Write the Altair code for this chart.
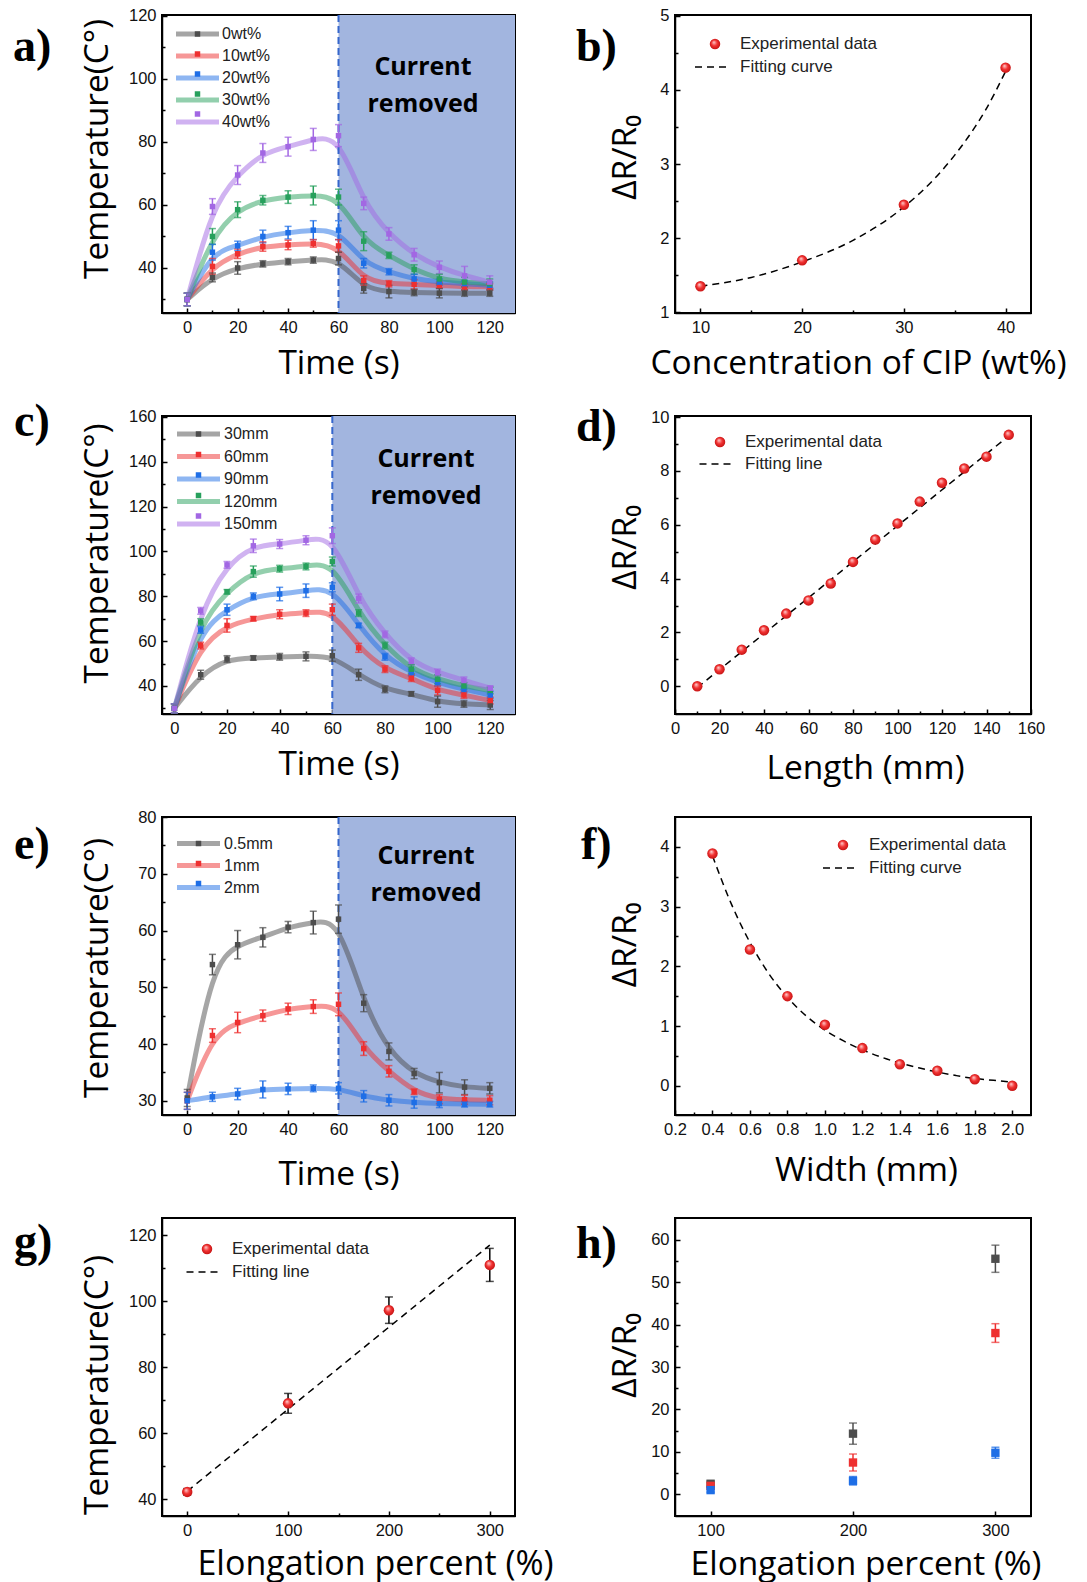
import altair as alt
import pandas as pd

NUM_FONT = "Liberation Sans"
TITLE_FONT = "Open Sans"
LETTER_FONT = "Liberation Serif"

# ------------------------------------------------------------------ data
time_s = [0, 10, 20, 30, 40, 50, 60, 70, 80, 90, 100, 110, 120]
time_ticks = [0, 20, 40, 60, 80, 100, 120]
time_minor = [10, 30, 50, 70, 90, 110]

# a) CIP concentration
a_names = ["0wt%", "10wt%", "20wt%", "30wt%", "40wt%"]
a_0 = [30, 37, 40, 41.3, 42, 42.5, 43, 33.5, 32.5, 32.2, 32, 32, 32]
a_10 = [30, 40.5, 44.5, 46.8, 47.3, 47.8, 47, 36, 35, 34.8, 34.5, 34, 34]
a_20 = [30, 45, 47, 50, 51.2, 52, 52, 41.5, 38.8, 36.5, 35.5, 35, 34.5]
a_30 = [30, 50, 58.5, 61.5, 62.5, 63, 62.5, 48.5, 44, 39.5, 36.5, 35.5, 35]
a_40 = [30, 59.5, 69.5, 76.5, 78.5, 80.8, 82, 60.5, 50.8, 44.2, 40.2, 37.5, 35.5]
a_0e = [2, 1.4, 2, 1, 1, 1, 2, 1.5, 2, 1, 1.5, 1, 1]
a_10e = [2, 2.5, 1.5, 1.5, 1.5, 1.2, 2, 1.5, 1, 1.5, 1, 1, 1]
a_20e = [2, 2.5, 1.5, 2, 2, 3, 3, 1.5, 1, 1.5, 1, 1, 1]
a_30e = [2, 2.5, 2.5, 1.5, 2, 3, 2.5, 3, 1, 1.5, 1.5, 1.5, 1.5]
a_40e = [2, 2.5, 3, 3, 3, 3.5, 3.5, 2, 2, 2, 2, 3, 2]

# c) length
c_names = ["30mm", "60mm", "90mm", "120mm", "150mm"]
c_30 = [30, 45, 52, 52.5, 53, 53.2, 53.5, 45, 38.5, 36.5, 33, 32, 31.5]
c_60 = [30, 58, 67, 70, 72, 72.5, 74, 57, 47.5, 43.5, 38, 36, 33.5]
c_90 = [30, 65, 74, 80, 81, 82.5, 84, 67, 53, 46, 41.5, 38.5, 36]
c_120 = [30, 68.5, 82, 91, 92.3, 93.3, 95.5, 72.5, 58, 47.5, 43, 40, 38]
c_150 = [30, 73.5, 94, 102.5, 103.3, 105, 107, 79, 63, 51, 46, 42.5, 39]
c_30e = [2, 2, 1.5, 1, 1.5, 2, 2.5, 2.5, 1.5, 1, 2.5, 1.5, 2]
c_60e = [2, 1.5, 3, 1, 2, 1.5, 2.5, 2, 1.5, 1.5, 2, 1.5, 1.5]
c_90e = [2, 1.5, 2.5, 1.5, 3, 3, 2, 1, 1.5, 1.5, 1.5, 1.5, 1.5]
c_120e = [2, 1.5, 1, 2.5, 1.5, 1.5, 2, 1.5, 1.5, 2, 2, 1.5, 1.5]
c_150e = [2, 1.5, 1.5, 3, 2, 2, 3.5, 2, 1.5, 1.5, 1.5, 1.5, 1]

# e) width
e_names = ["0.5mm", "1mm", "2mm"]
e_05 = [30.5, 54, 57.5, 58.8, 60.6, 61.4, 62, 47.2, 38.7, 34.8, 33.2, 32.4, 32.2]
e_1 = [30, 41.5, 43.8, 45, 46.2, 46.6, 47, 39.2, 35.2, 31.6, 30.3, 30.2, 30.1]
e_2 = [30, 30.7, 31.2, 32, 32.1, 32.2, 32.2, 30.8, 30.1, 29.7, 29.5, 29.4, 29.4]
e_05e = [1.5, 1.8, 2.5, 1.7, 1, 2, 2.5, 1.5, 1.5, 0.9, 1.8, 1.3, 1]
e_1e = [1.5, 1.2, 1.8, 1, 1, 1.2, 2, 1.2, 1, 0.5, 0.8, 0.8, 0.8]
e_2e = [1.5, 0.8, 1, 1.5, 1, 0.6, 1, 1, 1, 1, 0.7, 0.5, 0.5]

# b) resistance vs CIP concentration
b_x = [10, 20, 30, 40]
b_y = [1.35, 1.7, 2.45, 4.3]
b_fit_x = [10, 15, 20, 25, 30, 33, 35, 37, 38, 40]
b_fit_y = [1.35, 1.47, 1.68, 1.97, 2.42, 2.8, 3.12, 3.5, 3.72, 4.25]

# d) resistance vs length
d_x = [10, 20, 30, 40, 50, 60, 70, 80, 90, 100, 110, 120, 130, 140, 150]
d_y = [0, 0.63, 1.36, 2.08, 2.7, 3.19, 3.82, 4.62, 5.45, 6.05, 6.86, 7.56, 8.09, 8.53, 9.34]
d_fit_x = [10, 150]
d_fit_y = [-0.05, 9.3]

# f) resistance vs width
f_x = [0.4, 0.6, 0.8, 1.0, 1.2, 1.4, 1.6, 1.8, 2.0]
f_y = [3.89, 2.28, 1.5, 1.02, 0.63, 0.36, 0.25, 0.11, 0.0]
f_fit_x = [0.4, 0.5, 0.6, 0.7, 0.8, 0.9, 1.0, 1.1, 1.2, 1.3, 1.4, 1.5, 1.6, 1.7, 1.8, 1.9, 2.0]
f_fit_y = [3.85, 3.05, 2.4, 1.88, 1.48, 1.17, 0.93, 0.75, 0.6, 0.48, 0.38, 0.3, 0.23, 0.17, 0.12, 0.09, 0.06]

# g) temperature vs elongation
g_x = [0, 100, 200, 300]
g_y = [42.3, 69.1, 97.3, 111]
g_err = [1, 3, 4, 5]
g_fit_x = [0, 300]
g_fit_y = [42.5, 117]

# h) resistance vs elongation
h_names = ["1mm", "2mm", "3mm"]
h_x = [100, 200, 300]
h_1 = [2.5, 14.3, 55.5]
h_2 = [2.0, 7.5, 38.0]
h_3 = [1.0, 3.2, 9.8]
h_1e = [0.6, 2.5, 3.2]
h_2e = [0.8, 2.0, 2.2]
h_3e = [0.5, 1.0, 1.3]

series_dark = ["#4d4d4d", "#ee3030", "#1e6ee6", "#27a05c", "#a267e3"]

W_L, W_R, H = 353, 356, 298

sphere = alt.RadialGradient(
    gradient="radial",
    stops=[alt.GradientStop(color="#ffd6d6", offset=0),
           alt.GradientStop(color="#f23232", offset=0.5),
           alt.GradientStop(color="#c01010", offset=1)],
    x1=0.38, y1=0.32, r1=0, x2=0.5, y2=0.5, r2=0.55)


def ax_x(values, title, tx, ty, fmt=None, fs=33.5):
    kw = dict(orient="bottom", values=values, title=title, titleX=tx, titleY=ty,
              titleAlign="center", titleBaseline="alphabetic", titleAngle=0, ticks=False,
              labelPadding=6, titleFontSize=fs)
    if fmt:
        kw["format"] = fmt
    return alt.Axis(**kw)


def ax_y(values, title, tx, ty):
    return alt.Axis(orient="left", values=values, title=title, titleX=tx, titleY=ty,
                    titleAlign="center", titleBaseline="alphabetic", titleAngle=270,
                    ticks=False, labelPadding=6, titleFontSize=33.5)


def tick_axis(orient, vals, size):
    return alt.Axis(orient=orient, values=vals, offset=-size, tickSize=size, domain=False,
                    labels=False, ticks=True, title=None, grid=False)


def tick_layers(df, xf, yf, xs, ys, T):
    xmaj, xmin, ymaj, ymin = T
    out = []
    for xv, yv, sz in [(xmaj, ymaj, 5), (xmin, ymin, 3)]:
        out.append(alt.Chart(df).mark_point(opacity=0).encode(
            x=alt.X(xf, scale=xs, axis=tick_axis("bottom", xv, sz) if xv else None),
            y=alt.Y(yf, scale=ys, axis=tick_axis("left", yv, sz) if yv else None)))
    return out


def letter_layer(letter, x, y):
    return alt.Chart(pd.DataFrame({"l": [letter]})).mark_text(
        font=LETTER_FONT, fontWeight="bold", fontSize=46, align="left",
        baseline="alphabetic", color="black"
    ).encode(text="l:N", x=alt.value(x), y=alt.value(y))


def time_panel(names, vals, errs, P):
    rows = []
    for i, (n, v, e) in enumerate(zip(names, vals, errs)):
        for t, y, d in zip(time_s, v, e):
            rows.append({"t": t, "T": y, "lo": y - d, "hi": y + d, "s": n, "k": i})
    df = pd.DataFrame(rows)
    cols = series_dark[:len(names)]
    W = P["W"]
    xs = alt.Scale(domain=P["xdom"], nice=False, zero=False)
    ys = alt.Scale(domain=P["ydom"], nice=False, zero=False)
    xax = ax_x(time_ticks, "Time (s)", *P["xt"])
    yax = ax_y(P["yticks"], "Temperature(C°)", *P["yt"])
    X = lambda f: alt.X(f, scale=xs, axis=None)
    Y = lambda f: alt.Y(f, scale=ys, axis=None)
    sdf = pd.DataFrame({"x0": [60], "x1": [P["xdom"][1]]})
    shade = alt.Chart(sdf).mark_rect(color="#a2b5df").encode(
        x=X("x0:Q"), x2="x1:Q", y=alt.value(0), y2=alt.value(H))
    vline = alt.Chart(sdf).mark_rule(color="#3566cc", strokeDash=[7, 4], strokeWidth=2).encode(
        x=X("x0:Q"), y=alt.value(0), y2=alt.value(H))
    lx, ly, rp, lo = P["leg"]
    color = alt.Color("s:N", scale=alt.Scale(domain=names, range=cols), legend=alt.Legend(
        orient="none", legendX=lx, legendY=ly, direction="vertical", title=None, padding=0,
        symbolType="stroke", symbolSize=1849, symbolStrokeWidth=5, symbolOpacity=0.5,
        clipHeight=15, rowPadding=rp, labelOffset=lo, labelFont=NUM_FONT,
        labelFontSize=16, labelColor="#222"))
    col_nl = alt.Color("s:N", scale=alt.Scale(domain=names, range=cols), legend=None)
    lines = alt.Chart(df).mark_line(interpolate="basis", strokeWidth=5, opacity=0.5).encode(
        x=alt.X("t:Q", scale=xs, axis=xax), y=alt.Y("T:Q", scale=ys, axis=yax), color=color)
    bars = alt.Chart(df).mark_rule(strokeWidth=1.5).encode(
        x=X("t:Q"), y=Y("lo:Q"), y2="hi:Q", color=col_nl)
    cap_lo = alt.Chart(df).mark_tick(orient="horizontal", size=7, thickness=1.5).encode(
        x=X("t:Q"), y=Y("lo:Q"), color=col_nl)
    cap_hi = alt.Chart(df).mark_tick(orient="horizontal", size=7, thickness=1.5).encode(
        x=X("t:Q"), y=Y("hi:Q"), color=col_nl)
    pts = alt.Chart(df).mark_square(size=30, opacity=1).encode(
        x=X("t:Q"), y=Y("T:Q"),
        fill=alt.Fill("s:N", sort=alt.EncodingSortField(field="k", op="min"),
                      scale=alt.Scale(range=cols), legend=alt.Legend(
                          orient="none", legendX=lx, legendY=ly, direction="vertical",
                          title=None, padding=0, symbolType="square", symbolSize=30,
                          symbolStrokeWidth=0, clipHeight=15, rowPadding=rp,
                          labelFontSize=1, labelOpacity=0, symbolOffset=21)))
    tx, ty = P["txt"]
    txt = alt.Chart(pd.DataFrame({"w": ["Current\nremoved"]})).mark_text(
        font=TITLE_FONT, fontWeight="bold", fontSize=25, lineHeight=37, lineBreak="\n",
        align="center", baseline="alphabetic", color="black"
    ).encode(text="w:N", x=alt.value(tx), y=alt.value(ty))
    let = letter_layer(P["letter"], *P["lpos"])
    ticks = tick_layers(df, "t:Q", "T:Q", xs, ys, P["ticks"])
    return alt.layer(shade, lines, vline, bars, cap_lo, cap_hi, pts, *ticks, txt, let
                     ).resolve_axis(x="independent", y="independent").properties(
        width=W, height=H)


def scatter_panel(px, py, fx, fy, fit_label, interp, P, err=None):
    df = pd.DataFrame({"x": px, "y": py})
    df["lab"] = "Experimental data"
    fdf = pd.DataFrame({"x": fx, "y": fy})
    fdf["lab"] = fit_label
    W = P["W"]
    xs = alt.Scale(domain=P["xdom"], nice=False, zero=False)
    ys = alt.Scale(domain=P["ydom"], nice=False, zero=False)
    xax = ax_x(P["xticks"], P["xtitle"], *P["xt"], fmt=P.get("xfmt"), fs=P.get("xfs", 33.5))
    yax = ax_y(P["yticks"], P["ytitle"], *P["yt"])
    X = lambda f: alt.X(f, scale=xs, axis=None)
    Y = lambda f: alt.Y(f, scale=ys, axis=None)
    (cx, cy, co), (dx, dy, do) = P["leg"]
    fit = alt.Chart(fdf).mark_line(color="black", strokeWidth=1.5, interpolate=interp).encode(
        x=X("x:Q"), y=Y("y:Q"),
        strokeDash=alt.StrokeDash("lab:N", scale=alt.Scale(domain=[fit_label], range=[[7, 5]]),
                                  legend=alt.Legend(
                                      orient="none", legendX=dx, legendY=dy, title=None,
                                      padding=0, symbolType="stroke", symbolSize=1296,
                                      symbolStrokeWidth=1.5, symbolStrokeColor="black",
                                      clipHeight=17, labelOffset=do, labelFont=NUM_FONT,
                                      labelFontSize=17, labelColor="#222")))
    layers = [fit]
    if err is not None:
        df["lo"] = [a - b for a, b in zip(py, err)]
        df["hi"] = [a + b for a, b in zip(py, err)]
        layers.append(alt.Chart(df).mark_rule(color="black", strokeWidth=1.5).encode(
            x=X("x:Q"), y=Y("lo:Q"), y2="hi:Q"))
        for f in ["lo", "hi"]:
            layers.append(alt.Chart(df).mark_tick(orient="horizontal", size=8, thickness=1.5,
                                                  color="black").encode(
                x=X("x:Q"), y=Y(f + ":Q")))
    pts = alt.Chart(df).mark_point(filled=True, shape="circle", size=110, fill=sphere,
                                   opacity=1, strokeWidth=0).encode(
        x=alt.X("x:Q", scale=xs, axis=xax), y=alt.Y("y:Q", scale=ys, axis=yax),
        shape=alt.Shape("lab:N", scale=alt.Scale(domain=["Experimental data"], range=["circle"]),
                        legend=alt.Legend(
                            orient="none", legendX=cx, legendY=cy, title=None, padding=0,
                            symbolType="circle", symbolSize=110, symbolStrokeWidth=0,
                            symbolFillColor="#ee2a2a", clipHeight=17, labelOffset=co,
                            labelFont=NUM_FONT, labelFontSize=17, labelColor="#222")))
    layers.append(pts)
    layers += tick_layers(df, "x:Q", "y:Q", xs, ys, P["ticks"])
    layers.append(letter_layer(P["letter"], *P["lpos"]))
    return alt.layer(*layers).resolve_axis(x="independent", y="independent").properties(
        width=W, height=H)


def h_panel(P):
    rows = []
    for i, (n, v, e) in enumerate(zip(h_names, [h_1, h_2, h_3], [h_1e, h_2e, h_3e])):
        for x, y, d in zip(h_x, v, e):
            rows.append({"x": x, "y": y, "lo": y - d, "hi": y + d, "s": n})
    df = pd.DataFrame(rows)
    cols = series_dark[:3]
    W = P["W"]
    xs = alt.Scale(domain=P["xdom"], nice=False, zero=False)
    ys = alt.Scale(domain=P["ydom"], nice=False, zero=False)
    xax = ax_x(h_x, "Elongation percent (%)", *P["xt"])
    yax = ax_y([0, 10, 20, 30, 40, 50, 60], "ΔR/R₀", *P["yt"])
    X = lambda f: alt.X(f, scale=xs, axis=None)
    Y = lambda f: alt.Y(f, scale=ys, axis=None)
    col_nl = alt.Color("s:N", scale=alt.Scale(domain=h_names, range=cols), legend=None)
    bars = alt.Chart(df).mark_rule(strokeWidth=1.5).encode(
        x=X("x:Q"), y=Y("lo:Q"), y2="hi:Q", color=col_nl)
    caps = [alt.Chart(df).mark_tick(orient="horizontal", size=8, thickness=1.5).encode(
        x=X("x:Q"), y=Y(f + ":Q"), color=col_nl) for f in ["lo", "hi"]]
    lx, ly, lo = P["leg"]
    pts = alt.Chart(df).mark_square(size=70, opacity=1).encode(
        x=alt.X("x:Q", scale=xs, axis=xax), y=alt.Y("y:Q", scale=ys, axis=yax),
        color=alt.Color("s:N", scale=alt.Scale(domain=h_names, range=cols), legend=alt.Legend(
            orient="none", legendX=lx, legendY=ly, title=None, padding=0, direction="vertical",
            symbolType="square", symbolSize=70, symbolStrokeWidth=0, clipHeight=17,
            rowPadding=4, labelOffset=lo, labelFont=NUM_FONT, labelFontSize=17,
            labelColor="#222")))
    let = letter_layer(P["letter"], *P["lpos"])
    ticks = tick_layers(df, "x:Q", "y:Q", xs, ys, P["ticks"])
    return alt.layer(bars, *caps, pts, *ticks, let).resolve_axis(
        x="independent", y="independent").properties(width=W, height=H)


pa = time_panel(a_names, [a_0, a_10, a_20, a_30, a_40], [a_0e, a_10e, a_20e, a_30e, a_40e], dict(
    W=W_L, xdom=[-10, 130], ydom=[25.7, 120.3], yticks=[40, 60, 80, 100, 120],
    ticks=(time_ticks, time_minor, [40, 60, 80, 100, 120], [30, 50, 70, 90, 110]),
    xt=(176.5, 60), yt=(-55, 133.5), leg=(11.5, 11.5, 5, 0.5), txt=(261, 60),
    letter="a)", lpos=(-149, 46)))
pc = time_panel(c_names, [c_30, c_60, c_90, c_120, c_150],
                [c_30e, c_60e, c_90e, c_120e, c_150e], dict(
    W=W_L, xdom=[-4.7, 129.4], ydom=[27.5, 160.4], yticks=[40, 60, 80, 100, 120, 140, 160],
    ticks=(time_ticks, time_minor, [40, 60, 80, 100, 120, 140, 160],
           [30, 50, 70, 90, 110, 130, 150]),
    xt=(176.5, 60), yt=(-55, 137), leg=(12.5, 10.5, 5.5, 1.5), txt=(264, 51),
    letter="c)", lpos=(-148, 20)))
pe = time_panel(e_names, [e_05, e_1, e_2], [e_05e, e_1e, e_2e], dict(
    W=W_L, xdom=[-10, 130], ydom=[27.5, 80], yticks=[30, 40, 50, 60, 70, 80],
    ticks=(time_ticks, time_minor, [30, 40, 50, 60, 70, 80], [35, 45, 55, 65, 75]),
    xt=(176.5, 69), yt=(-55, 150.5), leg=(12.5, 19, 5, 1.5), txt=(264, 47),
    letter="e)", lpos=(-148, 42)))

pb = scatter_panel(b_x, b_y, b_fit_x, b_fit_y, "Fitting curve", "monotone", dict(
    W=W_R, xdom=[7.5, 42.5], ydom=[0.99, 5.01], xticks=[10, 20, 30, 40], yticks=[1, 2, 3, 4, 5],
    ticks=([10, 20, 30, 40], [15, 25, 35], [1, 2, 3, 4, 5], [1.5, 2.5, 3.5, 4.5]),
    xtitle="Concentration of CIP (wt%)", ytitle="ΔR/R₀", xt=(183, 60), yt=(-40, 142),
    leg=((31.5, 20.5, 16.5), (19, 43.5, 8)), letter="b)", lpos=(-99, 46)))
pd_ = scatter_panel(d_x, d_y, d_fit_x, d_fit_y, "Fitting line", "linear", dict(
    W=W_R, xdom=[0, 160], ydom=[-1.03, 10.04], xticks=[0, 20, 40, 60, 80, 100, 120, 140, 160],
    yticks=[0, 2, 4, 6, 8, 10],
    ticks=([0, 20, 40, 60, 80, 100, 120, 140, 160], [10, 30, 50, 70, 90, 110, 130, 150],
           [0, 2, 4, 6, 8, 10], [1, 3, 5, 7, 9]),
    xtitle="Length (mm)", ytitle="ΔR/R₀", xt=(190, 64),
    yt=(-40, 131), leg=((36.5, 17.5, 16.5), (23.5, 39.5, 8.5)), letter="d)", lpos=(-99, 25)))
pf = scatter_panel(f_x, f_y, f_fit_x, f_fit_y, "Fitting curve", "monotone", dict(
    W=W_R, xdom=[0.2, 2.1], ydom=[-0.49, 4.5],
    xticks=[0.2, 0.4, 0.6, 0.8, 1.0, 1.2, 1.4, 1.6, 1.8, 2.0], xfmt=".1f",
    yticks=[0, 1, 2, 3, 4],
    ticks=([0.2, 0.4, 0.6, 0.8, 1.0, 1.2, 1.4, 1.6, 1.8, 2.0],
           [0.3, 0.5, 0.7, 0.9, 1.1, 1.3, 1.5, 1.7, 1.9], [0, 1, 2, 3, 4],
           [0.5, 1.5, 2.5, 3.5]),
    xtitle="Width (mm)", ytitle="ΔR/R₀", xt=(191, 65),
    yt=(-40, 127.5), leg=((159.5, 19.5, 17.5), (147, 42.5, 9)), letter="f)", lpos=(-94, 42)))
pg = scatter_panel(g_x, g_y, g_fit_x, g_fit_y, "Fitting line", "linear", dict(
    W=W_L, xdom=[-25, 325], ydom=[35, 125.2], xticks=[0, 100, 200, 300],
    yticks=[40, 60, 80, 100, 120],
    ticks=([0, 100, 200, 300], [50, 150, 250], [40, 60, 80, 100, 120], [50, 70, 90, 110]),
    xtitle="Elongation percent (%)", ytitle="Temperature(C°)", xfs=34,
    xt=(213, 58), yt=(-55, 166.5), leg=((36.5, 22.5, 16.5), (23.5, 45.5, 8.5)),
    letter="g)", lpos=(-148, 38)), err=g_err)
ph = h_panel(dict(W=W_R, xdom=[75, 325], ydom=[-5.1, 65.1], xt=(190.5, 58), yt=(-40, 137),
                  ticks=([100, 200, 300], None, [0, 10, 20, 30, 40, 50, 60],
                         [5, 15, 25, 35, 45, 55]),
                  leg=(31.5, 22.5, 15.5), letter="h)", lpos=(-99, 40)))

chart = alt.concat(pa, pb, pc, pd_, pe, pf, pg, ph, columns=2,
                   spacing={"row": 103, "column": 160}, bounds="flush").resolve_scale(
    color="independent", fill="independent", shape="independent", strokeDash="independent"
).properties(
    padding={"left": 12, "top": 6, "right": 2, "bottom": 2}
).configure_view(
    stroke="black", strokeWidth=2
).configure_axis(
    grid=False, domainColor="black", domainWidth=1.5, tickColor="black", tickWidth=1.5,
    labelFont=NUM_FONT, labelFontSize=16.5, labelColor="#111", labelFlush=False,
    labelOverlap=False, titleFont=TITLE_FONT, titleFontWeight="normal", titleColor="black"
)

chart.save("out.html", embed_options={"renderer": "svg", "actions": False})
